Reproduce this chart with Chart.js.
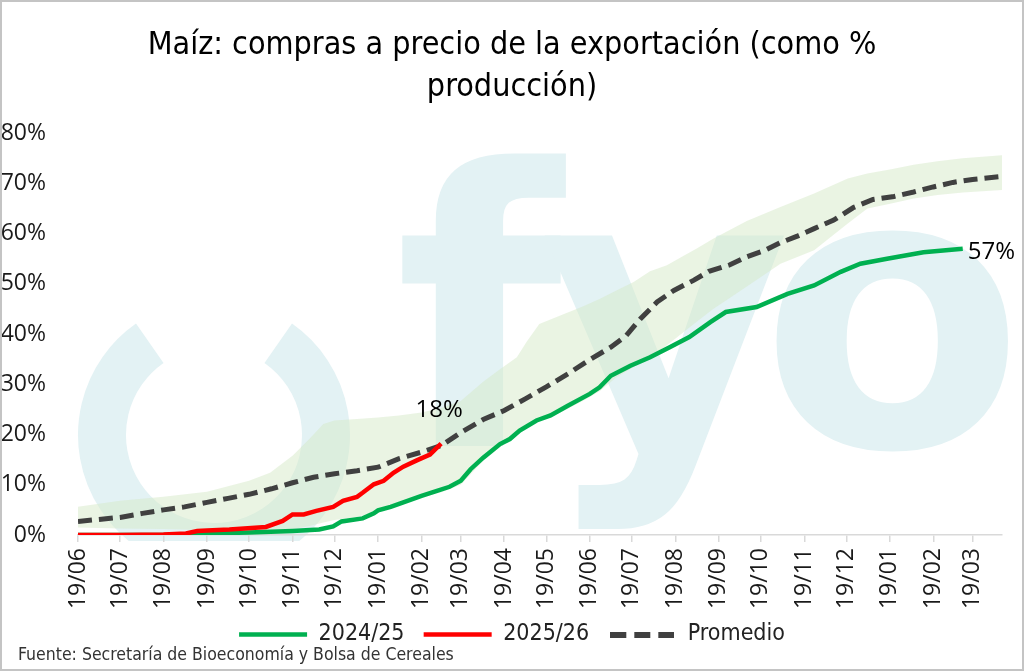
<!DOCTYPE html>
<html>
<head>
<meta charset="utf-8">
<script src="https://cdn.jsdelivr.net/npm/chart.js@4.4.1/dist/chart.umd.min.js"></script>
<style>
  body { margin: 0; background: #fff; }
  #wrap { width: 1024px; height: 671px; position: relative; }
</style>
</head>
<body>
<div id="wrap"><canvas id="grafico"></canvas></div>
<script>
// eje x en días desde el 19/06 de inicio de campaña
const etiquetasMes = ['19/06', '19/07', '19/08', '19/09', '19/10', '19/11', '19/12', '19/01', '19/02', '19/03', '19/04',
    '19/05', '19/06', '19/07', '19/08', '19/09', '19/10', '19/11', '19/12', '19/01', '19/02', '19/03'];
const diasMes = [0, 30, 61, 92, 122, 153, 183, 214, 245, 273, 304, 334, 365, 395, 426, 457, 487, 518, 548, 579, 610, 638];
const diaFinal = 659;

const diasCampActual = [0, 30, 61, 77, 85, 92, 108, 134, 146, 153, 161, 170, 182, 189, 199, 203, 211, 218, 225, 232, 242, 251, 256, 259];
const campActual = [0, 0, 0.1, 0.3, 0.8, 0.9, 1.1, 1.6, 2.8, 4.1, 4.1, 4.8, 5.6, 6.8, 7.6, 8.4, 10.1, 10.8, 12.4, 13.6, 14.9, 16.0, 17.4, 18.2];

const diasCampAnterior = [0, 61, 92, 122, 153, 172, 182, 188, 203, 211, 214, 223, 230, 245, 256, 265, 273, 280, 289, 301, 308, 315,
    327, 337, 349, 365, 372, 380, 394, 408, 422, 436, 451, 462, 484, 506, 525, 544, 558, 577, 603, 631];
const campAnterior = [0, 0, 0.3, 0.5, 0.8, 1.1, 1.7, 2.7, 3.3, 4.3, 4.9, 5.6, 6.3, 7.8, 8.8, 9.6, 10.8, 13.1, 15.4, 18.1, 19.1, 20.8,
    22.8, 23.8, 25.7, 28.1, 29.4, 31.7, 33.7, 35.4, 37.4, 39.4, 42.4, 44.4, 45.4, 48.0, 49.7, 52.4, 54.0, 55.0, 56.3, 57.0];

const diasPromedio = [0, 15, 30, 46, 61, 76, 92, 107, 122, 138, 153, 168, 183, 199, 214, 229, 245, 259, 273, 289, 304, 319, 334, 350,
    365, 380, 391, 401, 413, 425, 439, 450, 465, 477, 490, 501, 513, 525, 539, 553, 567, 582, 596, 610, 624, 638, 659];
const promedio = [2.7, 3.1, 3.5, 4.3, 5.0, 5.6, 6.5, 7.3, 8.1, 9.2, 10.4, 11.5, 12.2, 12.8, 13.5, 15.2, 16.5, 17.8, 20.4, 23.0, 24.8, 27.1, 29.5, 32.2,
    34.9, 37.4, 39.7, 43.0, 46.4, 48.7, 50.7, 52.5, 53.8, 55.4, 56.7, 58.2, 59.5, 61.0, 62.7, 65.2, 66.8, 67.4, 68.3, 69.3, 70.2, 70.8, 71.4];

const diasBanda = [0, 30, 61, 92, 122, 137, 153, 165, 175, 183, 199, 214, 229, 245, 259, 273, 289, 301, 313, 320, 329, 344, 360, 372,
    384, 396, 408, 420, 432, 441, 453, 477, 501, 525, 549, 563, 580, 596, 613, 631, 659];
const bandaMax = [5.6, 6.8, 7.6, 8.6, 10.8, 12.4, 15.8, 19.1, 22.1, 22.8, 23.1, 23.4, 23.8, 24.4, 25.3, 26.7, 30.5, 33.0, 35.4, 38.5, 42.0, 43.7, 45.5, 47.0,
    48.7, 50.3, 52.5, 53.7, 55.6, 57.0, 59.0, 62.5, 65.3, 68.0, 71.0, 72.0, 72.8, 73.7, 74.4, 75.0, 75.6];
const bandaMin = [1.5, 1.3, 1.2, 1.0, 1.0, 1.0, 1.2, 1.8, 2.5, 3.0, 3.6, 4.8, 6.0, 7.5, 8.5, 10.0, 14.8, 17.5, 20.1, 21.2, 22.6, 24.4, 26.7, 28.6,
    31.4, 33.4, 35.4, 37.8, 40.4, 42.4, 45.0, 49.5, 54.0, 56.7, 62.0, 65.0, 66.0, 67.0, 67.7, 68.2, 68.7];

const fuenteAngosta = '"DejaVu Sans Condensed", "Liberation Sans Narrow", sans-serif';
const fuenteTicks = '"Open Sans", sans-serif';

function puntos(xs, ys) {
    return xs.map((x, i) => ({ x: x, y: ys[i] }));
}

// muestra punteada para la leyenda (el estilo 'line' de Chart.js no usa borderDash)
const muestraPunteada = document.createElement('canvas');
muestraPunteada.width = 64;
muestraPunteada.height = 6;
(() => {
    const c = muestraPunteada.getContext('2d');
    c.fillStyle = '#404040';
    [0, 24, 48].forEach(x => c.fillRect(x, 0, 16, 6));
})();

// logo de fondo, recortado al borde inferior del área del gráfico
const marcaAgua = {
    id: 'marcaAgua',
    beforeDraw(chart) {
        const ctx = chart.ctx;
        ctx.save();
        ctx.fillStyle = '#fff';
        ctx.fillRect(0, 0, chart.width, chart.height);
        ctx.beginPath();
        ctx.rect(0, 0, chart.width, chart.chartArea.bottom + 6);
        ctx.clip();
        ctx.strokeStyle = '#e3f2f4';
        ctx.lineWidth = 48;
        ctx.beginPath();
        ctx.arc(214, 435, 112, -55 * Math.PI / 180, 235 * Math.PI / 180);
        ctx.stroke();
        ctx.fillStyle = '#e3f2f4';
        ctx.font = 'bold 385px "DejaVu Sans"';
        ctx.textBaseline = 'alphabetic';
        ctx.fillText('f', 395, 446);
        ctx.fillText('y', 540, 446);
        ctx.fillText('o', 760, 446);
        ctx.restore();
    }
};

const rotulos = {
    id: 'rotulos',
    afterDraw(chart) {
        const ctx = chart.ctx;
        ctx.save();
        ctx.fillStyle = '#000';
        ctx.font = '24px ' + fuenteTicks;
        const rojo = chart.getDatasetMeta(1).data;
        const pr = rojo[rojo.length - 1];
        ctx.textAlign = 'center';
        ctx.textBaseline = 'middle';
        ctx.fillText('18%', pr.x - 2, pr.y - 33);
        const verde = chart.getDatasetMeta(0).data;
        const pv = verde[verde.length - 1];
        ctx.textAlign = 'left';
        ctx.fillText('57%', pv.x + 5, pv.y + 3);

        ctx.font = '17.5px ' + fuenteAngosta;
        ctx.fillStyle = '#333';
        ctx.textBaseline = 'middle';
        ctx.fillText('Fuente: Secretaría de Bioeconomía y Bolsa de Cereales', 18, 655);

        ctx.strokeStyle = '#c4c4c4';
        ctx.lineWidth = 2;
        ctx.strokeRect(1, 1, chart.width - 2, chart.height - 2);
        ctx.restore();
    }
};

new Chart(document.getElementById('grafico'), {
    type: 'line',
    data: {
        datasets: [
            {
                label: '2024/25',
                data: puntos(diasCampAnterior, campAnterior),
                borderColor: '#00b050',
                backgroundColor: '#00b050',
                borderWidth: 4.5,
                pointRadius: 0,
                tension: 0,
                order: 1
            },
            {
                label: '2025/26',
                data: puntos(diasCampActual, campActual),
                borderColor: '#ff0000',
                backgroundColor: '#ff0000',
                borderWidth: 4.5,
                pointRadius: 0,
                tension: 0,
                order: 0
            },
            {
                label: 'Promedio',
                data: puntos(diasPromedio, promedio),
                borderColor: '#404040',
                backgroundColor: '#404040',
                borderWidth: 5,
                borderDash: [14, 7],
                pointRadius: 0,
                tension: 0,
                order: 2
            },
            {
                label: 'Máximo',
                data: puntos(diasBanda, bandaMax),
                borderWidth: 0,
                borderColor: 'rgba(0,0,0,0)',
                backgroundColor: 'rgba(214, 234, 200, 0.5)',
                fill: '+1',
                pointRadius: 0,
                order: 3
            },
            {
                label: 'Mínimo',
                data: puntos(diasBanda, bandaMin),
                borderWidth: 0,
                borderColor: 'rgba(0,0,0,0)',
                pointRadius: 0,
                fill: false,
                order: 4
            }
        ]
    },
    options: {
        responsive: true,
        maintainAspectRatio: false,
        animation: false,
        layout: { padding: { left: 0, right: 0, top: 0, bottom: 15 } },
        plugins: {
            title: {
                display: true,
                text: ['Maíz: compras a precio de la exportación (como %', 'producción)'],
                color: '#000',
                font: { family: fuenteAngosta, size: 32, weight: 'normal', lineHeight: 1.3 },
                padding: { top: 25, bottom: 25 }
            },
            legend: {
                position: 'bottom',
                labels: {
                    generateLabels: chart => {
                        const items = Chart.defaults.plugins.legend.labels.generateLabels(chart)
                            .filter(item => item.datasetIndex < 3)
                            .sort((a, b) => a.datasetIndex - b.datasetIndex);
                        items.forEach(item => {
                            if (item.datasetIndex < 2) {
                                item.text += '  ';
                                item.pointStyle = 'line';
                            } else {
                                item.pointStyle = muestraPunteada;
                            }
                        });
                        return items;
                    },
                    usePointStyle: true,
                    pointStyleWidth: 68,
                    color: '#222',
                    padding: 6,
                    font: { family: fuenteAngosta, size: 23 }
                }
            },
            tooltip: { enabled: false }
        },
        scales: {
            x: {
                type: 'linear',
                min: 0,
                max: diaFinal,
                afterBuildTicks: scale => { scale.ticks = diasMes.map(d => ({ value: d })); },
                afterFit: scale => { scale.height = 82; },
                ticks: {
                    autoSkip: false,
                    maxRotation: 90,
                    minRotation: 90,
                    padding: 6,
                    color: '#1a1a1a',
                    font: { family: fuenteTicks, size: 23 },
                    callback: (v) => etiquetasMes[diasMes.indexOf(v)]
                },
                grid: { drawOnChartArea: false, drawTicks: true, tickLength: 7, color: '#d9d9d9', lineWidth: 1.5 },
                border: { color: '#d9d9d9', width: 1.5 }
            },
            y: {
                min: 0,
                max: 80,
                afterFit: scale => { scale.width = 78; },
                ticks: {
                    stepSize: 10,
                    padding: 24,
                    color: '#1a1a1a',
                    font: { family: fuenteTicks, size: 23 },
                    callback: v => v + '%'
                },
                grid: { display: false },
                border: { display: false }
            },
            // margen derecho vacío, para que título y leyenda queden centrados en la imagen
            margen: {
                position: 'right',
                afterFit: scale => { scale.width = 22; },
                ticks: { display: false },
                grid: { display: false },
                border: { display: false }
            }
        }
    },
    plugins: [marcaAgua, rotulos]
});
</script>
</body>
</html>
